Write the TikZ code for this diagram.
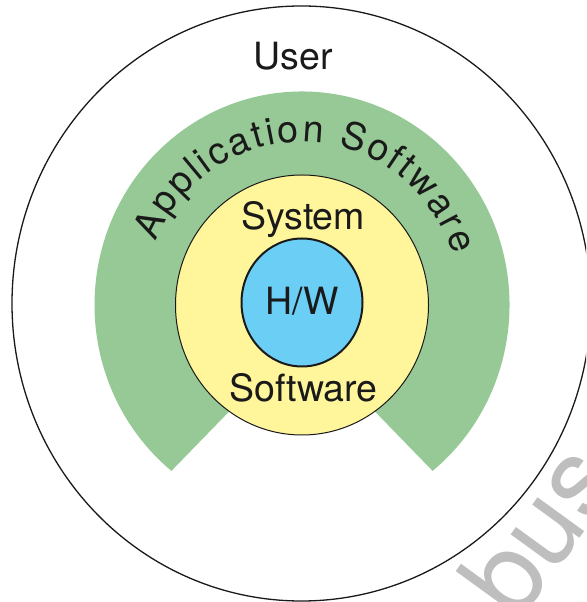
\documentclass[tikz,border=0pt]{standalone}
\usepackage{fontspec}
\setmainfont{TeX Gyre Heros}
\usetikzlibrary{decorations.text}

\definecolor{appgreen}{RGB}{150,201,150}
\definecolor{sysyellow}{RGB}{255,246,155}
\definecolor{hwblue}{RGB}{107,207,245}
\definecolor{inkblack}{RGB}{26,26,26}
\definecolor{markgray}{RGB}{190,190,190}

\tikzset{
  layerlabel/.style={font=\fontsize{37.5}{40}\selectfont, text=inkblack, inner sep=0pt, anchor=base},
  ringline/.style={draw=inkblack, line width=1.3pt}
}

\begin{document}
\begin{tikzpicture}[x=1pt, y=1pt]
  \useasboundingbox (0,0) rectangle (586,602);
  \clip (0,0) rectangle (586,602);
  \fill[white] (0,0) rectangle (586,602);

  % common centre of the inner layers
  \coordinate (c) at (302,297);

  % outermost layer: the user
  \draw[ringline] (301.4,298.5) ellipse [x radius=289.4, y radius=297.5];

  % application software: open ring with a gap at the bottom
  \fill[appgreen] (432.6,131.1)
      arc[start angle=-51, end angle=231, x radius=207.5, y radius=213.5]
      -- (250,212) -- (354,212) -- cycle;

  % system software
  \filldraw[fill=sysyellow, draw=inkblack, line width=1pt]
      (c) ellipse [x radius=126.5, y radius=130];

  % hardware core
  \filldraw[fill=hwblue, draw=inkblack, line width=2pt]
      (302,299.5) ellipse [x radius=60.5, y radius=64];

  % curved label on the application ring
  \path[decorate, decoration={text along path,
        text={|\fontsize{37.5}{40}\selectfont\color{inkblack}|Application Software},
        text align=fit to path}]
      (c) ++(157:159 and 163)
      arc[start angle=157, end angle=18, x radius=159, y radius=163];

  % labels
  \node[layerlabel] (user) at (293.5,532) {User};
  \node[layerlabel] (sys)  at (303,372) {System};
  \node[layerlabel] (sw)   at (303.5,200.3) {Software};
  \node[layerlabel] (hw)   at (302,287) {H/W};

  % faint mark in the lower right corner
  \node[font=\fontsize{110}{115}\selectfont, text=markgray, inner sep=0pt,
        anchor=base west, rotate=54] (mark) at (517.3,-21.9) {bus};
\end{tikzpicture}
\end{document}
